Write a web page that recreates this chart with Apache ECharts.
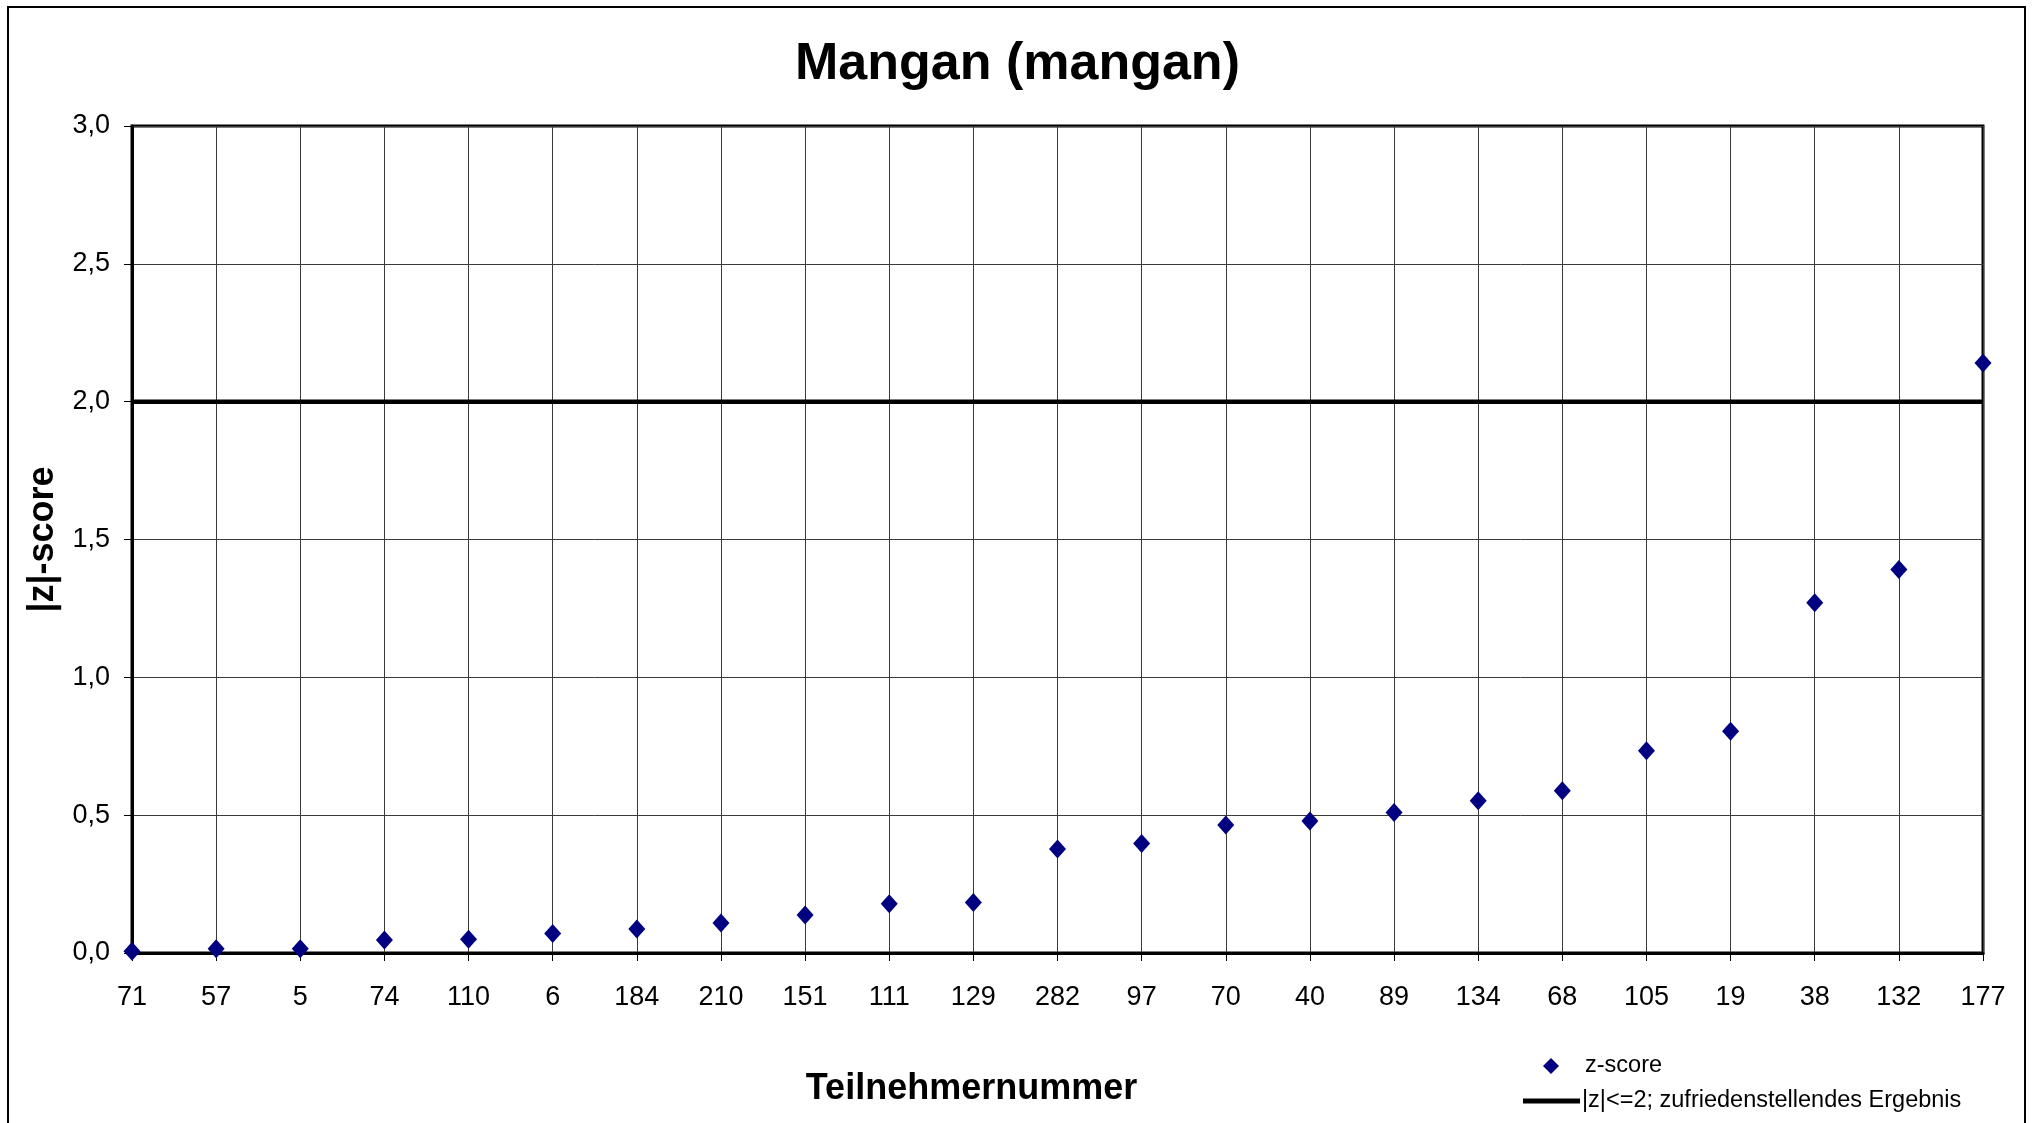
<!DOCTYPE html>
<html>
<head>
<meta charset="utf-8">
<script src="https://cdn.jsdelivr.net/npm/echarts@6/dist/echarts.min.js"></script>
<style>
    html, body { margin: 0; padding: 0; background: #fff; }
    #chart { width: 2035px; height: 1123px; }
</style>
</head>
<body>
<div id="chart"></div>
<script>
    // Teilnehmernummern, sortiert nach |z|
    var teilnehmer = ['71', '57', '5', '74', '110', '6', '184', '210', '151', '111', '129', '282',
        '97', '70', '40', '89', '134', '68', '105', '19', '38', '132', '177'];
    // |z|-score je Teilnehmer
    var zScores = [0.006, 0.015, 0.015, 0.047, 0.05, 0.071, 0.087, 0.109, 0.138, 0.179, 0.183, 0.377,
        0.397, 0.464, 0.479, 0.51, 0.552, 0.589, 0.734, 0.804, 1.271, 1.391, 2.14];
    // Grenze |z| <= 2
    var grenze = teilnehmer.map(function () { return 2; });
    var yTicks = [0, 0.5, 1, 1.5, 2, 2.5, 3];

    var font = '"Liberation Sans", Arial, sans-serif';

    var options = {
        animation: false,
        backgroundColor: '#fff',
        title: {
            text: 'Mangan (mangan)',
            left: 'center',
            top: 34,
            textStyle: { fontFamily: font, fontSize: 52, fontWeight: 'bold', color: '#000' }
        },
        // Rahmen um das ganze Diagramm
        graphic: [{
            type: 'rect',
            shape: { x: 8, y: 7, width: 2017, height: 1140 },
            style: { fill: 'none', stroke: '#000', lineWidth: 2 },
            silent: true
        }],
        legend: [{
            data: ['z-score'],
            left: 1543,
            top: 1054,
            padding: 0,
            itemWidth: 16,
            itemHeight: 16,
            icon: 'diamond',
            textStyle: { fontFamily: font, fontSize: 23.5, color: '#000', padding: [0, 0, 0, 21] }
        }, {
            data: ['|z|<=2; zufriedenstellendes Ergebnis'],
            left: 1523,
            top: 1089,
            padding: 0,
            itemWidth: 57,
            itemHeight: 5,
            icon: 'rect',
            textStyle: { fontFamily: font, fontSize: 23.5, color: '#000', padding: [0, 0, 0, -3] }
        }],
        grid: {
            left: 132,
            right: 2035 - 1983,
            top: 126,
            bottom: 1123 - 953,
            show: true,
            borderColor: '#000',
            borderWidth: 3
        },
        xAxis: {
            type: 'category',
            data: teilnehmer,
            boundaryGap: false,
            name: 'Teilnehmernummer',
            nameLocation: 'middle',
            nameGap: 118,
            nameTextStyle: { fontFamily: font, fontSize: 36, fontWeight: 'bold', color: '#000', padding: [0, 172, 0, 0] },
            axisLine: { lineStyle: { color: '#000', width: 3 } },
            axisTick: { show: true, length: 8, lineStyle: { color: '#000', width: 1 } },
            axisLabel: { fontFamily: font, fontSize: 27, color: '#000', margin: 31, interval: 0 },
            splitLine: { show: true, interval: 0, lineStyle: { color: '#3a3a3a', width: 1 } }
        },
        yAxis: {
            type: 'value',
            min: yTicks[0],
            max: yTicks[yTicks.length - 1],
            interval: 0.5,
            name: '|z|-score',
            nameLocation: 'middle',
            nameGap: 59,
            nameTextStyle: { fontFamily: font, fontSize: 36, fontWeight: 'bold', color: '#000' },
            axisLine: { show: true, lineStyle: { color: '#000', width: 3 } },
            axisTick: { show: true, length: 8, lineStyle: { color: '#000', width: 1 } },
            axisLabel: {
                fontFamily: font, fontSize: 27, color: '#000', margin: 22,
                formatter: function (v) { return v.toFixed(1).replace('.', ','); }
            },
            splitLine: { show: true, lineStyle: { color: '#3a3a3a', width: 1 } }
        },
        series: [{
            name: '|z|<=2; zufriedenstellendes Ergebnis',
            type: 'line',
            data: grenze,
            symbol: 'none',
            itemStyle: { color: '#000' },
            lineStyle: { color: '#000', width: 4.5 },
            z: 2
        }, {
            name: 'z-score',
            type: 'scatter',
            data: zScores,
            symbol: 'diamond',
            symbolSize: [17, 19],
            itemStyle: { color: '#000080', opacity: 1 },
            z: 3
        }]
    };

    var mycharts = echarts.init(document.getElementById('chart'));
    mycharts.setOption(options);
</script>
</body>
</html>
